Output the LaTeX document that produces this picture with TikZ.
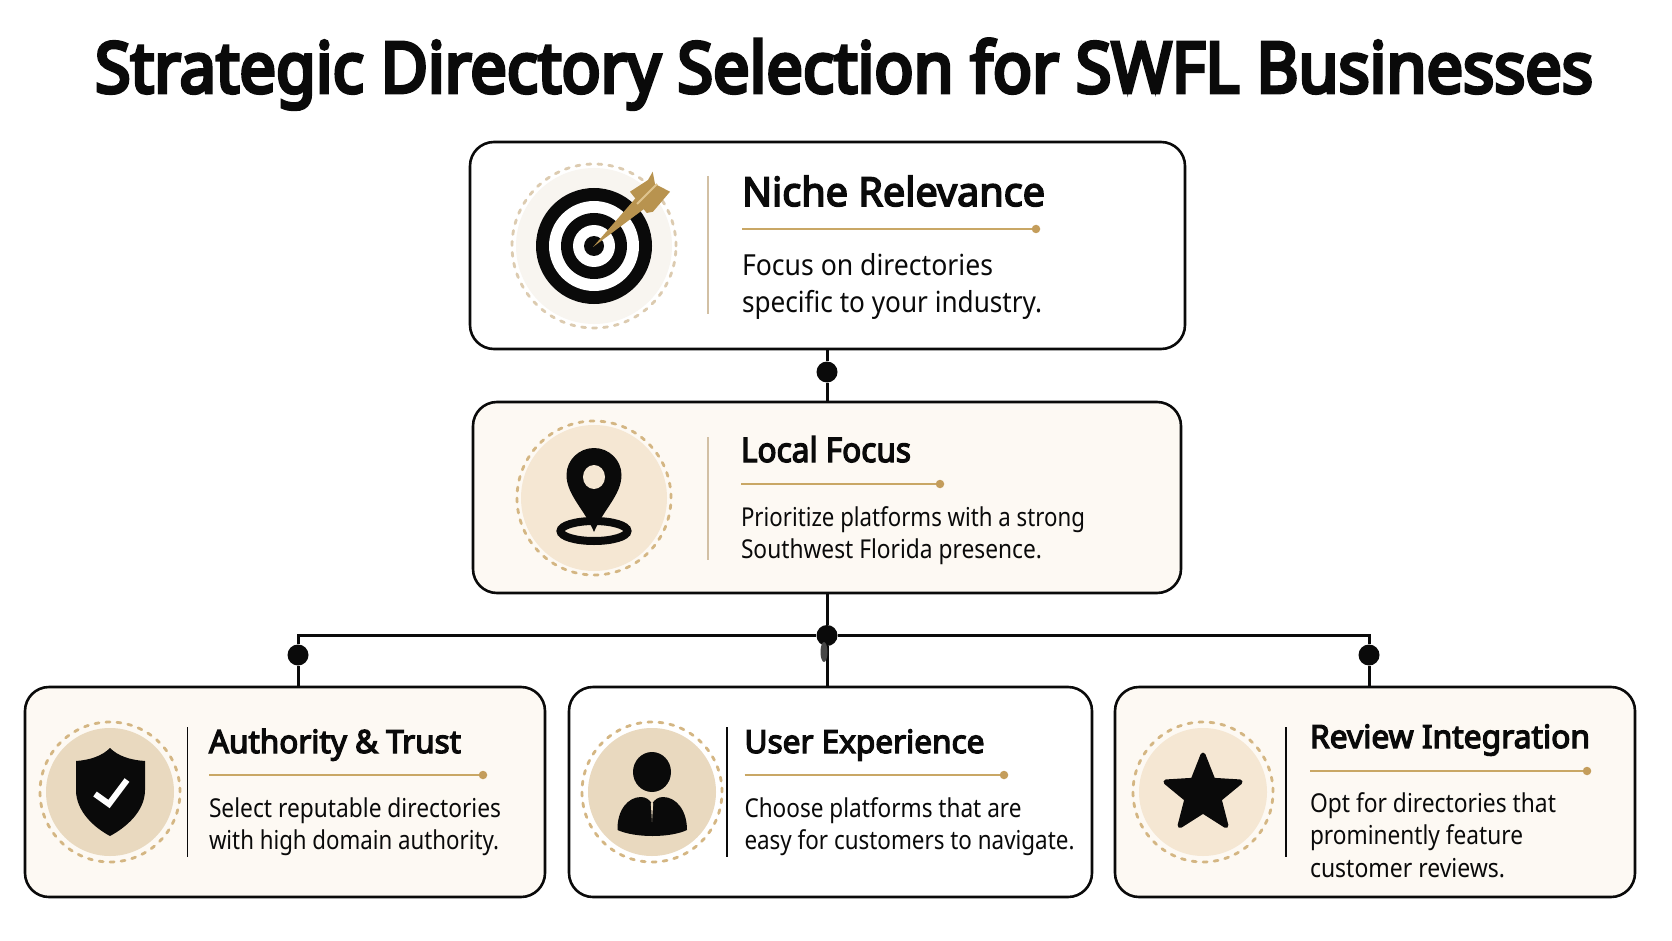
\documentclass[tikz,border=0pt]{standalone}
\usepackage{fontspec}
\usepackage{graphicx}
\usetikzlibrary{shapes.geometric}
\setmainfont{Noto Sans}
\newfontfamily\hdfont{Noto Sans}[FakeBold=4]
\newfontfamily\ttlfont{Noto Sans}[FakeBold=5.5]
\definecolor{ink}{HTML}{0A0A0A}
\definecolor{gold}{HTML}{C9A765}
\definecolor{golddot}{HTML}{C49D5B}
\definecolor{creamcard}{HTML}{FDF9F3}
\definecolor{dashA}{HTML}{DCCBB0}
\definecolor{dashB}{HTML}{D4B683}
\definecolor{discA}{HTML}{F8F5F0}
\definecolor{discB}{HTML}{F5E7D3}
\definecolor{discC}{HTML}{E9D9BF}
\definecolor{divtan}{HTML}{D2C0A4}
\definecolor{arrowgold}{HTML}{B8934F}
\definecolor{arrowlight}{HTML}{DFC48F}
\newsavebox\fitbox
\newcommand\fitw[2]{\sbox\fitbox{#2}\pgfmathsetmacro\fitr{#1/\the\wd\fitbox}\scalebox{\fitr}[1]{\usebox\fitbox}}
\newcommand\tline[6]{\node[lbl,font=\fontsize{#4}{#4}\selectfont] (#1) at (#2,#3) {\fitw{#5}{#6}};}
\newcommand\hdline[6]{\node[lbl,font=\hdfont\fontsize{#4}{#4}\selectfont] (#1) at (#2,#3) {\fitw{#5}{#6}};}
\tikzset{
  lbl/.style={anchor=base west,inner sep=0pt,outer sep=0pt,text=ink},
  card/.style={draw=ink,line width=2.6pt,rounded corners=24pt,inner sep=0pt,outer sep=0pt},
  link/.style={draw=ink,line width=3pt},
  blob/.style={circle,fill=ink,inner sep=0pt,minimum size=21pt},
  rulegold/.style={draw=gold,line width=2.6pt},
  tipdot/.style={circle,fill=golddot,inner sep=0pt,minimum size=8.5pt},
  ringdash/.style={line width=2.8pt,dash pattern=on 4pt off 7pt,line cap=round},
  divl/.style={line width=1.6pt},
}
\begin{document}
\begin{tikzpicture}[x=1pt,y=-1pt]
\useasboundingbox (0,0) rectangle (1672,941);
\fill[white] (0,0) rectangle (1672,941);
% title
\node[lbl,font=\ttlfont\fontsize{70}{70}\selectfont] (title) at (95,92.5) {\fitw{1498}{Strategic Directory Selection for SWFL Businesses}};
% cards
\node[card,fill=white,minimum width=715pt,minimum height=207pt] (c1) at (827.5,245.5) {};
\node[card,fill=creamcard,minimum width=708pt,minimum height=191pt] (c2) at (827,497.5) {};
\node[card,fill=creamcard,minimum width=520pt,minimum height=210pt] (ca) at (285,792) {};
\node[card,fill=white,minimum width=523pt,minimum height=210pt] (cb) at (830.5,792) {};
\node[card,fill=creamcard,minimum width=520pt,minimum height=210pt] (cc) at (1375,792) {};
% connectors
\node[blob] (d1) at (827,372) {};
\node[blob] (hub) at (827,635.5) {};
\node[blob] (da) at (298,655) {};
\node[blob] (dc) at (1369,655) {};
\coordinate (ha) at (298,635.5);
\coordinate (hc) at (1369,635.5);
\draw[link] (d1 |- c1.south) -- (d1) -- (d1 |- c2.north);
\draw[link] (hub |- c2.south) -- (hub) -- (hub |- cb.north);
\draw[link] (da |- ca.north) -- (da) -- (ha) -- (hub) -- (hc) -- (dc) -- (dc |- cc.north);
\fill[ink!75] (824,652) ellipse (3.5pt and 10pt);
% Card 1 icon
\fill[discA] (594,246) circle (78pt);
\draw[dashA,ringdash] (594,246) circle (82pt);
\fill[ink] (594,246) circle (58pt);
\fill[white] (594,246) circle (45pt);
\fill[ink] (594,246) circle (33pt);
\fill[white] (594,246) circle (21pt);
\fill[ink] (594,246) circle (10pt);
\fill[arrowgold] (593,247) -- (641,192) -- (652,203) -- cycle;
\fill[arrowgold] (652.7,171.7) -- (655,184) -- (670,191.7) -- (653,211.7) -- (646.7,213) -- (630,191.7) -- (648,180) -- cycle;
\draw[arrowlight,line width=2pt] (637,204) -- (657,184);
\draw[divtan,divl] (708,176) -- (708,314);
\hdline{t1}{742}{206}{40}{303}{Niche Relevance}
\node[tipdot] (r1) at (1036,229) {};
\coordinate (r1s) at (742,229);
\draw[rulegold] (r1s) -- (r1);
\tline{b1a}{742}{276}{29}{251}{Focus on directories}
\tline{b1b}{742}{312}{29}{300}{specific to your industry.}
% Card 2 icon
\fill[discB] (594,498) circle (73pt);
\draw[dashB,ringdash] (594,498) circle (77pt);
\draw[ink,line width=8pt] (594,531) ellipse (33.5pt and 10pt);
\fill[ink] (594,532) .. controls (585,510) and (566.5,495) .. (566.5,475) .. controls (566.5,460) and (579,448) .. (594,448) .. controls (609,448) and (621.5,460) .. (621.5,475) .. controls (621.5,495) and (603,510) .. (594,532) -- cycle;
\fill[discB] (594,477) ellipse (11pt and 12pt);
\draw[divtan,divl] (708,437) -- (708,560);
\hdline{t2}{741}{462}{34}{170}{Local Focus}
\node[tipdot] (r2) at (940,484) {};
\coordinate (r2s) at (741,484);
\draw[rulegold] (r2s) -- (r2);
\tline{b2a}{741}{526}{26}{344}{Prioritize platforms with a strong}
\tline{b2b}{741}{558}{26}{301}{Southwest Florida presence.}
% Card A icon
\fill[discC] (110,792) circle (64pt);
\draw[dashB,ringdash] (110,792) circle (70pt);
\fill[ink] (110,748) .. controls (118,756) and (130,760) .. (145,761) -- (145,790) .. controls (145,812) and (125,828) .. (110,836) .. controls (95,828) and (76,812) .. (76,790) -- (76,761) .. controls (90,760) and (102,756) .. (110,748) -- cycle;
\draw[white,line width=6pt] (95,794) -- (109,804) -- (127,780);
\draw[ink,divl] (187.5,727) -- (187.5,857);
\hdline{ta}{209}{753}{32}{252}{Authority \& Trust}
\node[tipdot] (ra) at (483,775) {};
\coordinate (ras) at (209,775);
\draw[rulegold] (ras) -- (ra);
\tline{bab}{209}{817}{26}{292}{Select reputable directories}
\tline{bac}{209}{849}{26}{290}{with high domain authority.}
% Card B icon
\fill[discC] (652,792) circle (64pt);
\draw[dashB,ringdash] (652,792) circle (70pt);
\fill[ink] (652,772) ellipse (19pt and 20pt);
\fill[ink] (617.5,830) .. controls (617,810) and (628,797) .. (641,797) .. controls (646,797) and (650,800) .. (652,804) .. controls (654,800) and (658,797) .. (663,797) .. controls (676,797) and (687,810) .. (687,830) .. controls (670,838) and (635,838) .. (617.5,830) -- cycle;
\fill[discC] (650.8,803) -- (653.2,803) -- (652,822) -- cycle;
\draw[ink,divl] (727,727) -- (727,857);
\hdline{tb}{744.5}{753}{32}{240}{User Experience}
\node[tipdot] (rb) at (1004,775) {};
\coordinate (rbs) at (744.5,775);
\draw[rulegold] (rbs) -- (rb);
\tline{bba}{744.5}{817}{26}{277}{Choose platforms that are}
\tline{bbb}{744.5}{849}{26}{330}{easy for customers to navigate.}
% Card C icon
\fill[discB] (1203,792) circle (64pt);
\draw[dashB,ringdash] (1203,792) circle (70pt);
\node[star,star points=5,star point ratio=2.3,fill=ink,draw=ink,line width=5pt,line join=round,inner sep=0pt,minimum size=78pt] (st) at (1203,794) {};
\draw[ink,divl] (1285.7,727) -- (1285.7,857);
\hdline{tc}{1310}{748}{32}{280}{Review Integration}
\node[tipdot] (rc) at (1587,771) {};
\coordinate (rcs) at (1310,771);
\draw[rulegold] (rcs) -- (rc);
\tline{bca}{1310}{812}{26}{246}{Opt for directories that}
\tline{bcb}{1310}{844}{26}{213}{prominently feature}
\tline{bcc}{1310}{877}{26}{195}{customer reviews.}
\end{tikzpicture}
\end{document}
